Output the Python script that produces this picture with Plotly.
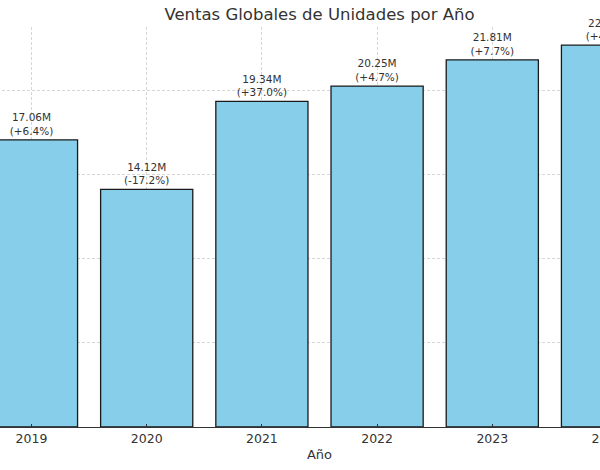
import plotly.graph_objects as go

# Ventas globales (millones de unidades)
years = [2019, 2020, 2021, 2022, 2023, 2024]
sales = [17.06, 14.12, 19.34, 20.25, 21.81, 22.68]
changes = ["+6.4%", "-17.2%", "+37.0%", "+4.7%", "+7.7%", "+4.0%"]

labels = [f"{v:.2f}M<br>({c})" for v, c in zip(sales, changes)]

fig = go.Figure()
fig.add_trace(go.Bar(
    x=years,
    y=sales,
    width=0.8,
    marker=dict(color="#87CEEB", line=dict(color="#1a1a1a", width=1.3)),
    text=labels,
    textposition="outside",
    textfont=dict(family="DejaVu Sans", size=10.5, color="#333333"),
    cliponaxis=False,
    constraintext="none",
))

# the full axes are wider than the window; the page is shifted left and cropped
fig.update_layout(
    width=735,
    height=470,
    margin=dict(l=0, r=0, t=27, b=43),
    plot_bgcolor="white",
    paper_bgcolor="white",
    showlegend=False,
    font=dict(family="DejaVu Sans", color="#333333"),
    title=dict(text="Ventas Globales de Unidades por Año", x=0.5, xref="paper",
               y=1 - 14 / 470, yanchor="middle",
               font=dict(size=16.5, color="#333333")),
    xaxis=dict(
        range=[2018.31, 2024.69],
        tickvals=years,
        ticks="inside",
        ticklen=3,
        tickcolor="#333333",
        tickfont=dict(size=12.5, color="#333333"),
        title=dict(text="Año", font=dict(size=13, color="#333333"), standoff=4),
        automargin=False,
        showline=True,
        linecolor="#333333",
        linewidth=1.2,
        showgrid=True,
        gridcolor="#d6d6d6",
        griddash="3px,2px",
        gridwidth=0.8,
        zeroline=False,
    ),
    yaxis=dict(
        range=[0, 23.76],
        tickvals=[5, 10, 15, 20],
        showticklabels=False,
        automargin=False,
        showgrid=True,
        gridcolor="#d6d6d6",
        griddash="3px,2px",
        gridwidth=0.8,
        zeroline=False,
    ),
)

fig.write_html(
    "out.html",
    config={"displayModeBar": False},
    post_script="document.body.style.margin='0 0 0 -48px';"
                "document.body.style.overflow='hidden';",
)
